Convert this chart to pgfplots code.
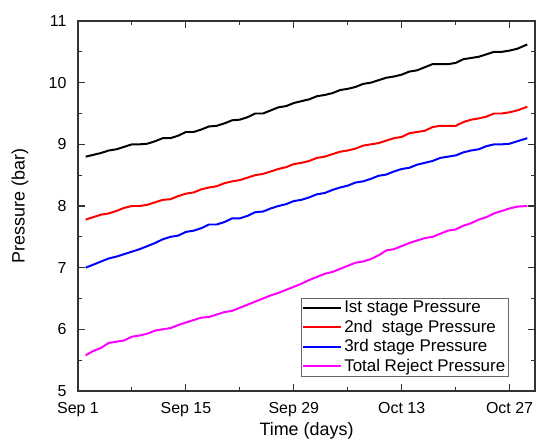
\documentclass[border=0pt]{standalone}
\usepackage{pgfplots}
\pgfplotsset{compat=1.18}
\usepackage{fontspec}
\setmainfont{Liberation Sans}
\definecolor{mag}{RGB}{255,0,255}
\definecolor{rd}{RGB}{255,0,0}
\definecolor{bl}{RGB}{0,0,255}
\begin{document}
\begin{tikzpicture}
\begin{axis}[
  scale only axis,
  width=457bp, height=370bp,
  xmin=0, xmax=59.3, ymin=5, ymax=11,
  xtick={0,14,28,42,56},
  xticklabels={Sep 1,Sep 15,Sep 29,Oct 13,Oct 27},
  ytick={5,6,7,8,9,10,11},
  minor x tick num=1, minor y tick num=1,
  tick align=inside,
  major tick length=7bp, minor tick length=4bp,
  axis line style={line width=1.1pt, black!80},
  every tick/.style={line width=1.1pt, black!80},
  tick label style={font=\fontsize{16}{16}\selectfont},
  xticklabel style={yshift=-8bp},
  yticklabel style={xshift=-8bp},
  /pgf/number format/assume math mode=true,
  xlabel={Time (days)}, ylabel={Pressure (bar)},
  label style={font=\fontsize{18}{18}\selectfont},
  xlabel style={at={(axis description cs:0.5,-0.108)}, anchor=center},
  ylabel style={at={(axis description cs:-0.127,0.5)}, anchor=center},
  legend style={at={(rel axis cs:0.488,0.0405)}, anchor=south west,
    draw=black!60, line width=0.8pt, font=\fontsize{17}{19}\selectfont,
    row sep=1.8bp, inner sep=1bp, outer sep=0pt},
  legend cell align=left,
  every axis plot/.append style={line width=2pt},
]
\coordinate (ll) at (rel axis cs:0,0);
\coordinate (ur) at (rel axis cs:1,1);
\addplot[black, legend image code/.code={\draw[black, line width=2pt] (0cm,0cm) -- (1.35cm,0cm);}] coordinates {
(1,8.80)(2,8.83)(3,8.86)(4,8.90)(5,8.92)(6,8.96)(7,9.00)(8,9.00)(9,9.01)(10,9.05)
(11,9.10)(12,9.10)(13,9.14)(14,9.20)(15,9.20)(16,9.24)(17,9.29)(18,9.30)(19,9.34)(20,9.39)
(21,9.40)(22,9.44)(23,9.50)(24,9.50)(25,9.55)(26,9.60)(27,9.62)(28,9.67)(29,9.70)(30,9.73)
(31,9.78)(32,9.80)(33,9.83)(34,9.88)(35,9.90)(36,9.93)(37,9.98)(38,10.00)(39,10.04)(40,10.08)
(41,10.10)(42,10.13)(43,10.18)(44,10.20)(45,10.25)(46,10.30)(47,10.30)(48,10.30)(49,10.32)(50,10.38)
(51,10.40)(52,10.42)(53,10.46)(54,10.50)(55,10.50)(56,10.52)(57,10.55)(58.3,10.62)};
\addlegendentry{Ist stage Pressure}
\addplot[rd, legend image code/.code={\draw[rd, line width=2pt] (0cm,0cm) -- (1.35cm,0cm);}] coordinates {
(1,7.78)(2,7.82)(3,7.86)(4,7.88)(5,7.92)(6,7.97)(7,8.00)(8,8.00)(9,8.02)(10,8.06)
(11,8.10)(12,8.11)(13,8.16)(14,8.20)(15,8.22)(16,8.27)(17,8.30)(18,8.32)(19,8.37)(20,8.40)
(21,8.42)(22,8.46)(23,8.50)(24,8.52)(25,8.56)(26,8.60)(27,8.63)(28,8.68)(29,8.70)(30,8.73)
(31,8.78)(32,8.80)(33,8.84)(34,8.88)(35,8.90)(36,8.93)(37,8.98)(38,9.00)(39,9.02)(40,9.06)
(41,9.10)(42,9.12)(43,9.18)(44,9.20)(45,9.22)(46,9.28)(47,9.30)(48,9.30)(49,9.30)(50,9.36)
(51,9.40)(52,9.42)(53,9.45)(54,9.50)(55,9.50)(56,9.52)(57,9.55)(58.3,9.61)};
\addlegendentry{2nd\ \ stage Pressure}
\addplot[bl, legend image code/.code={\draw[bl, line width=2pt] (0cm,0cm) -- (1.35cm,0cm);}] coordinates {
(1,7.00)(2,7.05)(3,7.10)(4,7.15)(5,7.18)(6,7.22)(7,7.26)(8,7.30)(9,7.35)(10,7.40)
(11,7.46)(12,7.50)(13,7.52)(14,7.58)(15,7.60)(16,7.64)(17,7.70)(18,7.70)(19,7.74)(20,7.80)
(21,7.80)(22,7.84)(23,7.90)(24,7.91)(25,7.96)(26,8.00)(27,8.03)(28,8.08)(29,8.10)(30,8.14)
(31,8.19)(32,8.21)(33,8.26)(34,8.30)(35,8.33)(36,8.38)(37,8.40)(38,8.44)(39,8.49)(40,8.51)
(41,8.56)(42,8.60)(43,8.62)(44,8.67)(45,8.70)(46,8.73)(47,8.78)(48,8.80)(49,8.82)(50,8.87)
(51,8.90)(52,8.92)(53,8.97)(54,9.00)(55,9.00)(56,9.01)(57,9.05)(58.3,9.10)};
\addlegendentry{3rd stage Pressure}
\addplot[mag, legend image code/.code={\draw[mag, line width=2pt] (0cm,0cm) -- (1.35cm,0cm);}] coordinates {
(1,5.58)(2,5.65)(3,5.70)(4,5.78)(5,5.80)(6,5.82)(7,5.88)(8,5.90)(9,5.93)(10,5.98)
(11,6.00)(12,6.02)(13,6.07)(14,6.11)(15,6.15)(16,6.19)(17,6.20)(18,6.24)(19,6.28)(20,6.30)
(21,6.35)(22,6.40)(23,6.45)(24,6.50)(25,6.55)(26,6.59)(27,6.64)(28,6.69)(29,6.74)(30,6.80)
(31,6.85)(32,6.90)(33,6.93)(34,6.98)(35,7.03)(36,7.08)(37,7.10)(38,7.14)(39,7.20)(40,7.28)
(41,7.30)(42,7.35)(43,7.40)(44,7.44)(45,7.48)(46,7.50)(47,7.55)(48,7.60)(49,7.62)(50,7.68)
(51,7.72)(52,7.78)(53,7.82)(54,7.88)(55,7.92)(56,7.96)(57,7.99)(58.3,8.00)};
\addlegendentry{Total Reject Pressure}
\end{axis}
\pgfresetboundingbox
\path[use as bounding box] ([shift={(-78bp,-53bp)}]ll) rectangle ([shift={(5bp,21bp)}]ur);
\end{tikzpicture}
\end{document}
